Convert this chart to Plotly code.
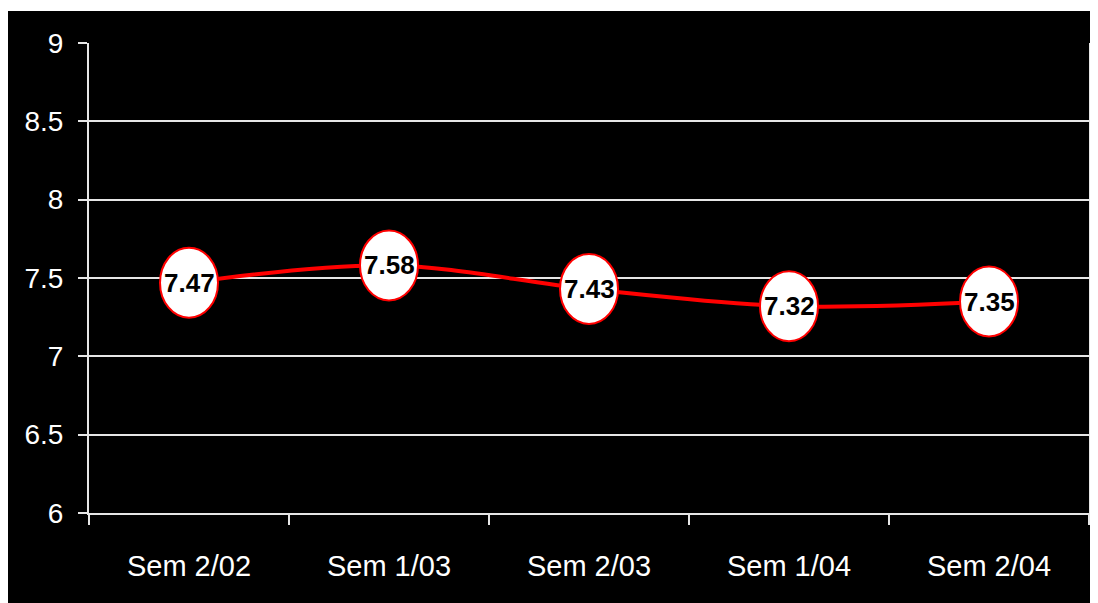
import plotly.graph_objects as go

categories = ["Sem 2/02", "Sem 1/03", "Sem 2/03", "Sem 1/04", "Sem 2/04"]
values = [7.47, 7.58, 7.43, 7.32, 7.35]
value_labels = ["7.47", "7.58", "7.43", "7.32", "7.35"]
y_ticks = [6, 6.5, 7, 7.5, 8, 8.5, 9]
y_tick_labels = ["6", "6.5", "7", "7.5", "8", "8.5", "9"]

GRID = "#e6e6e6"
FONT = "Liberation Sans, Arial, sans-serif"

fig = go.Figure()
fig.add_trace(go.Scatter(
    x=categories, y=values, mode="lines",
    line=dict(color="#ff0000", width=4, shape="spline", smoothing=1.0),
    hoverinfo="skip", showlegend=False,
))

shapes = [dict(type="rect", xref="paper", yref="paper",
               x0=-0.082, x1=1.02, y0=-0.25, y1=1.068,
               fillcolor="black", line=dict(width=0), layer="below")]
annotations = []
hx, hy = 0.145, 0.223
for i, (v, lab) in enumerate(zip(values, value_labels)):
    shapes.append(dict(type="circle", xref="x", yref="y",
                       x0=i - hx, x1=i + hx, y0=v - hy, y1=v + hy,
                       fillcolor="white", line=dict(color="#ff0000", width=2),
                       layer="above"))
    annotations.append(dict(x=categories[i], y=v, text="<b>%s</b>" % lab,
                            showarrow=False, xref="x", yref="y",
                            font=dict(family=FONT, size=26, color="black")))

fig.update_layout(
    width=1090, height=595,
    margin=dict(l=81, r=7, t=35, b=90),
    paper_bgcolor="white", plot_bgcolor="black",
    shapes=shapes, annotations=annotations,
    font=dict(family=FONT, color="white", size=28),
    xaxis=dict(type="category", categoryorder="array", categoryarray=categories,
               range=[-0.5, 4.5], tickson="boundaries", ticks="outside",
               ticklen=10, tickwidth=2, tickcolor=GRID, showline=True,
               linecolor=GRID, linewidth=2, showgrid=False, zeroline=False,
               ticklabelstandoff=26, tickfont=dict(size=29, color="white")),
    yaxis=dict(range=[6, 9], tickvals=y_ticks, ticktext=y_tick_labels,
               ticks="outside", ticklen=9, tickwidth=2, tickcolor=GRID,
               showline=True, linecolor=GRID, linewidth=2, mirror=True,
               showgrid=True, gridcolor=GRID, gridwidth=2, zeroline=False,
               ticklabelstandoff=9, tickfont=dict(size=28, color="white")),
)

fig.write_html("out.html")
